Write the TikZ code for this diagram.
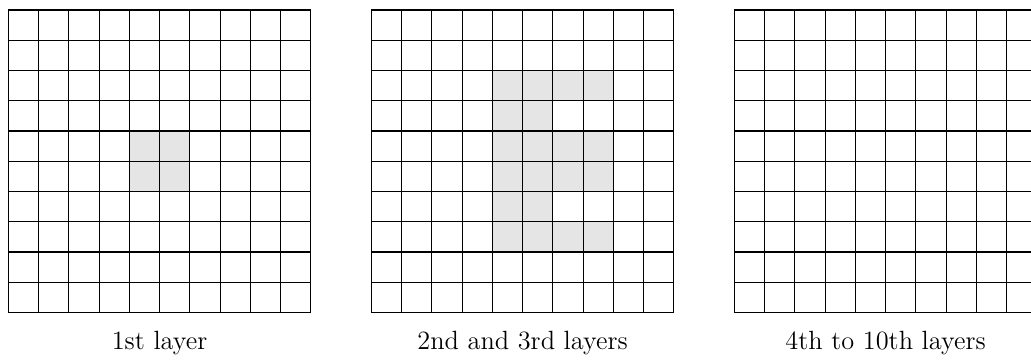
\documentclass[tikz,border=0pt]{standalone}
\usepackage{tikz}
\usetikzlibrary{calc}

\begin{document}
\begin{tikzpicture}
			\tikzstyle{filled}=[fill=gray!20, draw=none]
			\tikzstyle{layergrid}=[line width=0.5pt, step=0.5]
			\tikzstyle{layerlabel}=[anchor=base, inner sep=0pt, font=\fontsize{12.4}{15}\selectfont]

			\useasboundingbox (-0.137,-0.785) rectangle (16.904,5.165);

			\coordinate (G1) at (0,0);
			\coordinate (G2) at (6,0);
			\coordinate (G3) at (12,0);

			% shaded cells
			\fill [filled] ($(G1)+(2,2)$) rectangle ($(G1)+(3,3)$);
			\fill [filled] ($(G2)+(2,1)$) rectangle ($(G2)+(3,4)$);
			\fill [filled] ($(G2)+(3,3.5)$) rectangle ($(G2)+(4,4)$);
			\fill [filled] ($(G2)+(3,2)$) rectangle ($(G2)+(4,3)$);
			\fill [filled] ($(G2)+(3,1)$) rectangle ($(G2)+(4,1.5)$);

			\foreach \x in {0,6,12}
				\draw [layergrid, xshift=\x cm] (0,0) grid (5,5);

			\node (L1) [layerlabel] at ($(G1)+(2.5,-0.609)$) {1st layer};
			\node (L2) [layerlabel] at ($(G2)+(2.5,-0.609)$) {2nd and 3rd layers};
			\node (L3) [layerlabel] at ($(G3)+(2.5,-0.609)$) {4th to 10th layers};
		\end{tikzpicture}
\end{document}
